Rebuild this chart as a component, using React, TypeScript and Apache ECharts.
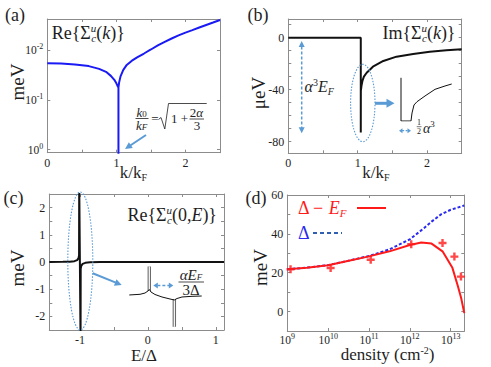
import React, { useEffect, useRef } from 'react';
import * as echarts from 'echarts';

const SERIF = "'Liberation Serif', 'DejaVu Serif', serif";
const ANN = '#5b9bd5';
const AX = '#8c8c8c';
const INK = '#1e1e1e';
const RED = '#ff1a1a';
const BLUE = '#2a2af0';

// ---------- panel (a): Re Sigma(k), log axis
const aK = [0, 0.2, 0.4, 0.6, 0.75, 0.85, 0.92, 0.97, 1.0, 1.02, 1.03, 1.03, 1.03, 1.04, 1.06, 1.1, 1.15, 1.22, 1.3, 1.4, 1.5, 1.6, 1.7, 1.8, 1.9, 2.0, 2.1, 2.2, 2.3, 2.4, 2.5];
const aReSigma = [0.0186, 0.0188, 0.0195, 0.0211, 0.024, 0.0275, 0.0331, 0.0398, 0.0468, 0.0537, 0.0562, 2, 0.0562, 0.0447, 0.0339, 0.0251, 0.02, 0.0166, 0.0141, 0.0118, 0.0098, 0.0081, 0.0069, 0.0059, 0.0051, 0.0045, 0.004, 0.00355, 0.00316, 0.00282, 0.00251];
const aYExp = [-2, -1, 0];
const kLabels = [0, 1, 2];

// ---------- panel (b): Im Sigma(k)
const bK = [0, 1.045, 1.045, 1.046, 1.055, 1.07, 1.09, 1.13, 1.22, 1.37, 1.56, 1.8, 2.04, 2.28, 2.5];
const bImSigma = [0, 0, -73, -41, -37, -33, -30, -27, -22.3, -17.9, -14.6, -12.5, -10.8, -9.7, -8.9];
const bYLabels = [-80, -40, 0];

// ---------- panel (c): Re Sigma(0,E)
const cE = [-1.45, -1.25, -1.15, -1.08, -1.04, -1.02, -1.012, -1.01, -0.99, -0.988, -0.98, -0.96, -0.92, -0.85, -0.7, -0.5, 1.12];
const cReSigma = [0, 0.005, 0.012, 0.03, 0.07, 0.14, 0.25, 3, -3, -0.25, -0.14, -0.07, -0.03, -0.012, -0.004, 0, 0];
const cXLabels = [-1, 0, 1];
const cYLabels = [-2, -1, 0, 1, 2];

// ---------- panel (d): gap vs density
const dDensity = [1e9, 3e9, 1e10, 3e10, 1e11, 3.16e11, 1e12, 1.9e12, 3.4e12, 6.3e12, 1.1e13, 1.5e13, 1.8e13, 2.15e13];
const dDeltaMinusEF = [21.8, 22.6, 23.8, 26, 28.4, 31, 34.3, 35.6, 35, 31, 22.5, 13, 7, -0.8];
const dDensityDelta = [1e9, 3e9, 1e10, 3e10, 1e11, 3.16e11, 1e12, 2.24e12, 3.4e12, 5.75e12, 1e13, 2.15e13];
const dDelta = [21.8, 22.6, 23.9, 26.1, 28.6, 32, 37.2, 43, 46.3, 50, 52.4, 54.6];
const dMarkDensity = [1.2e9, 1.15e10, 1.1e11, 1.08e12, 6.3e12, 1.23e13, 1.78e13];
const dMarkValue = [21.8, 22.4, 26.7, 34.7, 35.3, 28.3, 18];
const dXExp = [9, 10, 11, 12, 13];
const dYLabels = [0, 20, 40, 60];

// ---------- insets (normalised sketch coordinates)
const insetBX = [0, 0, 0.196, 0.216, 0.255, 0.314, 0.471, 0.667, 0.863, 0.994];
const insetBY = [0.96, 0, 0, 0.178, 0.356, 0.429, 0.556, 0.704, 0.778, 0.822];
const insetCArmX = [0.004, 0.151, 0.219, 0.26, 0.278, 0.301, 0.356, 0.452, 0.562, 0.621, 0.658, 0.726, 0.863, 0.996];
const insetCArmY = [0.525, 0.536, 0.557, 0.59, 0.615, 0.574, 0.533, 0.492, 0.459, 0.443, 0.467, 0.492, 0.503, 0.508];
const insetCSpike1X = [0.278, 0.278];
const insetCSpike1Y = [0.59, 0.99];
const insetCSpike2X = [0.621, 0.621];
const insetCSpike2Y = [0.005, 0.46];

const zip = (xs: number[], ys: number[]) => xs.map((x, i) => [x, ys[i]]);

const GRIDS = [
  { left: 47.3, top: 19, width: 172.7, height: 133.7 },
  { left: 288.3, top: 19, width: 173.4, height: 134.3 },
  { left: 49.3, top: 194, width: 174.7, height: 136 },
  { left: 287.3, top: 195, width: 177, height: 136 },
  { left: 401, top: 76, width: 51, height: 45 },
  { left: 129, top: 266, width: 73, height: 61 },
];

const pickLabel = (labels: number[]) => (v: number) => {
  const l = labels.find((t) => Math.abs(t - v) < 1e-6);
  return l === undefined ? '' : '{t|' + l + '}';
};
const powLabel = (exps: number[]) => (v: number) => {
  const e = Math.log10(v);
  const r = Math.round(e);
  if (Math.abs(e - r) > 1e-6 || !exps.includes(r)) return '';
  return '{p|10}{s|' + r + '}';
};

function axisPair(gridIndex: number, dim: 'x' | 'y', cfg: any) {
  const isLog = cfg.type === 'log';
  const common: any = {
    gridIndex,
    type: cfg.type || 'value',
    min: cfg.min,
    max: cfg.max,
    inverse: !!cfg.inverse,
    axisLine: { show: true, onZero: false, lineStyle: { color: AX, width: 1 } },
    axisTick: { show: true, inside: true, length: 3, lineStyle: { color: AX } },
    splitLine: { show: false },
  };
  if (isLog) common.logBase = 10;
  if (cfg.interval !== undefined) common.interval = cfg.interval;
  if (cfg.splitNumber !== undefined) common.splitNumber = cfg.splitNumber;
  const main = {
    ...common,
    position: dim === 'x' ? 'bottom' : 'left',
    axisLabel: {
      show: true,
      formatter: cfg.formatter,
      fontFamily: SERIF,
      fontSize: 12,
      color: INK,
      margin: isLog && dim === 'x' ? 1 : 4,
      rich: {
        t: { fontFamily: SERIF, fontSize: 12, color: INK, lineHeight: 12 },
        p: { fontFamily: SERIF, fontSize: 11.5, color: INK, lineHeight: 15 },
        s: { fontFamily: SERIF, fontSize: 8, color: INK, verticalAlign: 'top', lineHeight: 8 },
      },
    },
  };
  const mirror = { ...common, position: dim === 'x' ? 'top' : 'right', axisLabel: { show: false } };
  return [main, mirror];
}

function arrow(x1: number, y1: number, x2: number, y2: number, o: any = {}) {
  const { w = 1.5, head = 6, hw = 3, dash, both = false, color = ANN } = o;
  const dx = x2 - x1, dy = y2 - y1, L = Math.hypot(dx, dy);
  const ux = dx / L, uy = dy / L, px = -uy, py = ux;
  const sx = both ? x1 + ux * head * 0.9 : x1, sy = both ? y1 + uy * head * 0.9 : y1;
  const ex = x2 - ux * head * 0.9, ey = y2 - uy * head * 0.9;
  const els: any[] = [
    { type: 'line', z: 100, shape: { x1: sx, y1: sy, x2: ex, y2: ey }, style: { stroke: color, lineWidth: w, lineDash: dash } },
  ];
  const mk = (tx: number, ty: number, vx: number, vy: number) => ({
    type: 'polygon', z: 100,
    shape: { points: [[tx, ty], [tx - vx * head + px * hw, ty - vy * head + py * hw], [tx - vx * head - px * hw, ty - vy * head - py * hw]] },
    style: { fill: color },
  });
  els.push(mk(x2, y2, ux, uy));
  if (both) els.push(mk(x1, y1, -ux, -uy));
  return els;
}

// rich styles for small math: sup raised ~0.33em, sub lowered ~0.27em
const mathRich = (size: number, small: number, color: string = INK, lh?: number) => {
  const L = lh || size + 3;
  const supLH = Math.max(4, L - 2 * size * 0.33);
  const subLH = Math.max(4, L - 2 * size * 0.27);
  const base = { fontFamily: SERIF, fill: color, color, align: 'left' };
  return {
    i: { ...base, fontSize: size, fontStyle: 'italic', lineHeight: L },
    r: { ...base, fontSize: size, lineHeight: L },
    u: { ...base, fontSize: small, fontStyle: 'italic', verticalAlign: 'top', lineHeight: supLH, width: 0.5 },
    c: { ...base, fontSize: small, fontStyle: 'italic', verticalAlign: 'bottom', lineHeight: subLH },
    p: { ...base, fontSize: small, verticalAlign: 'top', lineHeight: supLH },
    b: { ...base, fontSize: small, fontStyle: 'italic', verticalAlign: 'bottom', lineHeight: subLH },
    s: { ...base, fontSize: small, verticalAlign: 'top', lineHeight: supLH },
    n: { ...base, fontSize: small, verticalAlign: 'bottom', lineHeight: subLH },
  };
};

const txt = (x: number, y: number, text: string, size: number, extra: any = {}) => {
  const small = extra.small || Math.round(size * 0.62);
  const content = text.includes('|') ? text : '{' + (extra.italic ? 'i' : 'r') + '|' + text + '}';
  return {
    type: 'text', x, y, z: 100, rotation: extra.rotation || 0,
    style: {
      text: content, fontFamily: SERIF, fontSize: size, fill: extra.fill || INK,
      align: extra.align || 'center', verticalAlign: 'middle', rich: mathRich(size, small, extra.fill || INK, extra.lh),
    },
  };
};

const hline = (x1: number, x2: number, y: number, w = 0.8, stroke = INK, dash?: number[]) => ({
  type: 'line', z: 100, shape: { x1, y1: y, x2, y2: y }, style: { stroke, lineWidth: w, lineDash: dash },
});

function buildOption() {
  const axA = { x: axisPair(0, 'x', { min: 0, max: 2.5, interval: 0.5, formatter: pickLabel(kLabels) }),
    y: axisPair(0, 'y', { type: 'log', min: 0.0024, max: 1.148, inverse: true, formatter: powLabel(aYExp) }) };
  const axB = { x: axisPair(1, 'x', { min: 0, max: 2.5, interval: 0.5, formatter: pickLabel(kLabels) }),
    y: axisPair(1, 'y', { min: -89, max: 14.4, splitNumber: 10, formatter: pickLabel(bYLabels) }) };
  const axC = { x: axisPair(2, 'x', { min: -1.45, max: 1.12, splitNumber: 5, formatter: pickLabel(cXLabels) }),
    y: axisPair(2, 'y', { min: -2.5, max: 2.5, interval: 0.5, formatter: pickLabel(cYLabels) }) };
  const axD = { x: axisPair(3, 'x', { type: 'log', min: 1e9, max: 2.15e13, formatter: powLabel(dXExp) }),
    y: axisPair(3, 'y', { min: -10, max: 60, interval: 10, formatter: pickLabel(dYLabels) }) };
  const hidden = (g: number) => ({ gridIndex: g, type: 'value', min: 0, max: 1, show: false });

  const xAxis = [...axA.x, ...axB.x, ...axC.x, ...axD.x, hidden(4), hidden(5)];
  const yAxis = [...axA.y, ...axB.y, ...axC.y, ...axD.y, hidden(4), hidden(5)];

  const line = (name: string, xi: number, data: any[], color: string, width: number, type: any = 'solid') => ({
    type: 'line', name, xAxisIndex: xi, yAxisIndex: xi, data, symbol: 'none', showSymbol: false, clip: true,
    lineStyle: { color, width, type }, itemStyle: { color }, emphasis: { disabled: true }, silent: true,
  });

  const series: any[] = [
    line('a', 0, zip(aK, aReSigma), '#1a1af5', 2),
    line('b', 2, zip(bK, bImSigma), '#111', 2),
    line('c', 4, zip(cE, cReSigma), '#111', 2),
    line('Δ', 6, zip(dDensityDelta, dDelta), BLUE, 2, [3, 2]),
    line('Δ − E_F', 6, zip(dDensity, dDeltaMinusEF), RED, 2),
    {
      type: 'scatter', name: 'calc', xAxisIndex: 6, yAxisIndex: 6, data: zip(dMarkDensity, dMarkValue),
      symbol: 'path://M3.5,0h3v3.5h3.5v3h-3.5v3.5h-3v-3.5h-3.5v-3h3.5z', symbolSize: 8,
      itemStyle: { color: RED }, silent: true,
    },
    line('insetB', 8, zip(insetBX, insetBY), '#111', 1),
    line('spk1', 9, zip(insetCSpike1X, insetCSpike1Y), '#6a6a6a', 3.4),
    line('spk1w', 9, zip(insetCSpike1X, insetCSpike1Y), '#ffffff', 1.2),
    line('spk2', 9, zip(insetCSpike2X, insetCSpike2Y), '#6a6a6a', 3.4),
    line('spk2w', 9, zip(insetCSpike2X, insetCSpike2Y), '#ffffff', 1.2),
    line('armC', 9, zip(insetCArmX, insetCArmY), '#111', 1),
  ];

  const graphic: any[] = [
    // panel labels
    txt(15, 15, '(a)', 18), txt(258, 15, '(b)', 18), txt(13.5, 198, '(c)', 18), txt(256, 198, '(d)', 18),
    // axis titles
    txt(17, 82, 'meV', 19, { rotation: Math.PI / 2 }),
    txt(133.5, 172.5, '{r|k/k}{n|F}', 17, { small: 10 }),
    txt(258.3, 93, 'μeV', 19, { rotation: Math.PI / 2 }),
    txt(376, 172.5, '{r|k/k}{n|F}', 17, { small: 10 }),
    txt(17, 268, 'meV', 19, { rotation: Math.PI / 2 }),
    txt(144, 355, 'E/Δ', 17, { lh: 18 }),
    txt(260, 267.5, 'meV', 19, { rotation: Math.PI / 2 }),
    txt(387.5, 354, '{r|density (cm}{s|-2}{r|)}', 17, { small: 10, lh: 18 }),
    // in-box titles
    txt(51.7, 33, '{r|Re{Σ}{u|u}{c|c}{r|(}{i|k}{r|)}}', 18, { align: 'left', small: 11 }),
    txt(455.5, 33, '{r|Im{Σ}{u|u}{c|c}{r|(}{i|k}{r|)}}', 18, { align: 'right', small: 11 }),
    txt(217, 215, '{r|Re{Σ}{u|u}{c|c}{r|(0,}{i|E}{r|)}}', 18, { align: 'right', small: 11 }),
    // (a) formula k0/kF = sqrt(1 + 2α/3)
    txt(141.7, 112, '{i|k}{n|0}', 13, { small: 9, lh: 12 }),
    hline(135.5, 148.5, 118.5),
    txt(141.7, 125.5, '{i|k}{b|F}', 13, { small: 9, lh: 12 }),
    txt(155, 118.5, '=', 13, { lh: 12 }),
    { type: 'polyline', z: 100, shape: { points: [[158.5, 119.5], [161, 117.5], [164.8, 129], [168.5, 103.5], [206.7, 103.5]] }, style: { stroke: INK, lineWidth: 0.8, fill: 'none' } },
    txt(171, 118.5, '1 +', 13, { align: 'left', lh: 12 }),
    txt(196.5, 112.5, '{r|2}{i|α}', 13, { small: 9, lh: 12 }),
    hline(189.5, 204, 119),
    txt(197, 125.5, '3', 13, { lh: 12 }),
    ...arrow(146, 135, 125, 149, { w: 2, head: 7, hw: 3.5 }),
    // (b) annotations
    ...arrow(301.7, 41, 301.7, 133.3, { w: 1.5, head: 6, hw: 3, dash: [3, 2], both: true }),
    txt(304.5, 86.7, '{i|α}{p|3}{i|E}{b|F}', 16, { align: 'left', small: 10 }),
    { type: 'ellipse', z: 100, shape: { cx: 362.8, cy: 103, rx: 12.2, ry: 38.7 }, style: { fill: 'none', stroke: ANN, lineWidth: 1.1, lineDash: [1.5, 1.5] } },
    ...arrow(375, 103.3, 394.5, 103.3, { w: 3, head: 8, hw: 4.5 }),
    ...arrow(399, 130.7, 411, 130.7, { w: 1.2, head: 3.5, hw: 2.5, dash: [2, 1.5], both: true }),
    txt(419, 122.5, '1', 8, { lh: 7 }),
    hline(416.7, 421.5, 126.7, 0.6),
    txt(419, 131, '2', 8, { lh: 7 }),
    txt(423, 128, '{i|α}{p|3}', 14, { align: 'left', small: 9 }),
    // (c) annotations
    { type: 'ellipse', z: 100, shape: { cx: 80.3, cy: 261, rx: 12.5, ry: 69 }, style: { fill: 'none', stroke: ANN, lineWidth: 1.1, lineDash: [1.5, 1.5] } },
    ...arrow(92.7, 273.3, 121.7, 285, { w: 2, head: 7, hw: 3.5 }),
    ...arrow(153.3, 285.5, 173.3, 285.5, { w: 1.5, head: 4.5, hw: 3, dash: [3, 2], both: true }),
    txt(191, 275, '{i|αE}{b|F}', 15, { small: 9, lh: 13 }),
    hline(178.5, 204, 282),
    txt(191, 290, '3Δ', 15, { lh: 13 }),
    // (d) legend
    txt(298, 208, '{r|Δ − }{i|E}{b|F}', 18, { align: 'left', small: 11, fill: RED }),
    hline(357, 386, 208, 2, RED),
    txt(298, 233, 'Δ', 18, { align: 'left', fill: BLUE }),
    hline(313, 342, 233, 2, '#2f5fb0', [4, 3]),
  ];

  return {
    animation: false,
    backgroundColor: '#ffffff',
    textStyle: { fontFamily: SERIF },
    grid: GRIDS.map((g) => ({ ...g, containLabel: false, show: false })),
    xAxis,
    yAxis,
    series,
    graphic,
  };
}

export default function App() {
  const ref = useRef<HTMLDivElement>(null);
  useEffect(() => {
    const chart = echarts.init(ref.current!, null, { renderer: 'svg' });
    chart.setOption(buildOption() as any);
    return () => chart.dispose();
  }, []);
  return (
    <div
      ref={ref}
      style={{ position: 'fixed', left: 0, top: 0, width: 491, height: 367, background: '#fff' }}
    />
  );
}
